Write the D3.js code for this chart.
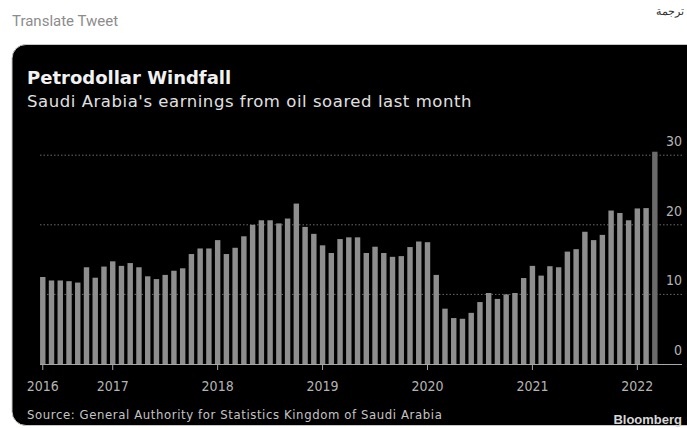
<!DOCTYPE html>
<html>
<head>
<meta charset="utf-8">
<script src="https://cdn.jsdelivr.net/npm/d3@7"></script>
<style>
  body { margin: 0; background: #fff; }
  svg { display: block; }
</style>
</head>
<body>
<div id="chart"></div>
<script>
// monthly oil export earnings, billions of riyals, May 2016 - Mar 2022
var months = d3.timeMonth.range(new Date(2016, 4, 1), new Date(2022, 3, 1));
var values = [
  12.5, 12.0, 12.0, 11.9, 11.7, 13.9, 12.4, 14.0,
  14.75, 14.1, 14.5, 13.9, 12.6, 12.2, 12.8, 13.4, 13.75, 15.8, 16.6, 16.6,
  17.8, 15.8, 16.7, 18.35, 20.0, 20.65, 20.65, 20.2, 20.9, 23.05, 19.7, 18.7,
  17.05, 15.95, 17.95, 18.2, 18.2, 15.95, 16.85, 15.95, 15.4, 15.5, 16.8, 17.6,
  17.5, 12.8, 7.95, 6.6, 6.5, 7.35, 8.9, 10.2, 9.35, 10.0, 10.2, 12.35,
  14.1, 12.7, 14.05, 13.9, 16.15, 16.5, 19.0, 17.8, 18.55, 22.05, 21.7, 20.65,
  22.35, 22.4, 30.5
];
var yTicks = [0, 10, 20, 30];
var yearTicks = ["2016-05", "2017-01", "2018-01", "2019-01", "2020-01", "2021-01", "2022-01"];
var yearLabels = ["2016", "2017", "2018", "2019", "2020", "2021", "2022"];

var w = 687, h = 428;
var fmt = d3.timeFormat("%Y-%m");
var cats = months.map(fmt);
var data = cats.map(function (c, i) { return { m: c, v: values[i] }; });

var svg = d3.select("#chart").append("svg")
  .attr("width", w)
  .attr("height", h);

svg.append("text")
  .attr("x", 12).attr("y", 26)
  .style("font-family", "Roboto")
  .style("font-size", "15px")
  .style("fill", "#8c8c8c")
  .text("Translate Tweet");

svg.append("text")
  .attr("x", 684).attr("y", 15)
  .attr("text-anchor", "end")
  .style("font-family", "Noto Sans")
  .style("font-size", "11px")
  .style("fill", "#333")
  .text("ترجمة");

// card
svg.append("rect")
  .attr("x", 12).attr("y", 44.5)
  .attr("width", 700).attr("height", 381)
  .attr("rx", 14)
  .style("fill", "#000")
  .style("stroke", "#c8c8c8")
  .style("stroke-width", 1);

svg.append("text")
  .attr("x", 27).attr("y", 84)
  .style("font-family", "DejaVu Sans")
  .style("font-weight", "bold")
  .style("font-size", "18px")
  .style("fill", "#f2f2f2")
  .text("Petrodollar Windfall");

svg.append("text")
  .attr("x", 27).attr("y", 107)
  .style("font-family", "DejaVu Sans")
  .style("font-size", "16.5px")
  .style("letter-spacing", "0.55px")
  .style("fill", "#e0e0e0")
  .text("Saudi Arabia's earnings from oil soared last month");

var x = d3.scaleBand()
  .domain(cats)
  .range([38.4, 659.2])
  .paddingInner(0.38)
  .paddingOuter(0.19);

var y = d3.scaleLinear()
  .domain([0, 30])
  .range([364, 155.2]);

var axisFont = "DejaVu Sans Condensed";

// gridlines
svg.selectAll(".grid")
  .data(yTicks.filter(function (d) { return d > 0; }))
  .enter().append("line")
  .attr("x1", 40).attr("x2", 682)
  .attr("y1", function (d) { return y(d); })
  .attr("y2", function (d) { return y(d); })
  .style("stroke", "#6a6a6a")
  .style("stroke-width", 1)
  .style("stroke-dasharray", "1.5,2");

svg.selectAll(".ylab")
  .data(yTicks)
  .enter().append("text")
  .attr("x", 682)
  .attr("y", function (d) { return y(d) - 9; })
  .attr("text-anchor", "end")
  .style("font-family", axisFont)
  .style("font-size", "14px")
  .style("fill", "#b4b4b4")
  .text(function (d) { return d; });

// bars
svg.selectAll(".bar")
  .data(data)
  .enter().append("rect")
  .attr("x", function (d) { return x(d.m); })
  .attr("width", x.bandwidth())
  .attr("y", function (d) { return y(d.v); })
  .attr("height", function (d) { return y(0) - y(d.v); })
  .style("fill", function (d, i) { return i === data.length - 1 ? "#6b6b6b" : "#8e8e8e"; });

// x axis
svg.append("line")
  .attr("x1", 40).attr("x2", 682)
  .attr("y1", y(0) + 0.5).attr("y2", y(0) + 0.5)
  .style("stroke", "#a8a8a8")
  .style("stroke-width", 1);

svg.selectAll(".xtick")
  .data(yearTicks)
  .enter().append("line")
  .attr("x1", function (d) { return x(d) + x.bandwidth() / 2; })
  .attr("x2", function (d) { return x(d) + x.bandwidth() / 2; })
  .attr("y1", y(0))
  .attr("y2", y(0) + 6)
  .style("stroke", "#a8a8a8")
  .style("stroke-width", 1);

svg.selectAll(".xlab")
  .data(yearTicks)
  .enter().append("text")
  .attr("x", function (d) { return x(d) + x.bandwidth() / 2; })
  .attr("y", 390.5)
  .attr("text-anchor", "middle")
  .style("font-family", axisFont)
  .style("font-size", "14px")
  .style("fill", "#b4b4b4")
  .text(function (d, i) { return yearLabels[i]; });

svg.append("text")
  .attr("x", 27).attr("y", 419)
  .style("font-family", axisFont)
  .style("font-size", "13px")
  .style("letter-spacing", "0.6px")
  .style("fill", "#c4c4c4")
  .text("Source: General Authority for Statistics Kingdom of Saudi Arabia");

svg.append("text")
  .attr("x", 682).attr("y", 424)
  .attr("text-anchor", "end")
  .style("font-family", "Liberation Sans")
  .style("font-weight", "bold")
  .style("font-size", "13px")
  .style("fill", "#d8d8d8")
  .text("Bloomberg");
</script>
</body>
</html>
